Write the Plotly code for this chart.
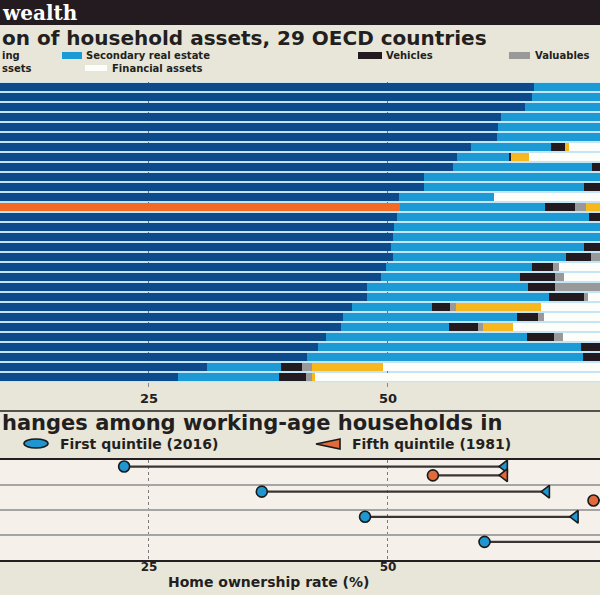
import plotly.graph_objects as go

# ---------------- data: composition of household assets (% of total) ----------------
rows = list(range(30))
housing = [65.3, 65.1, 64.3, 61.8, 61.5, 61.4, 58.7, 57.2, 56.8, 53.8,
           53.8, 51.2, 51.3, 50.9, 50.6, 50.5, 50.3, 50.5, 49.8, 49.3,
           47.8, 47.8, 46.2, 45.3, 45.1, 43.5, 42.7, 41.5, 31.1, 28.0]
secondary = [10.7, 9.9, 9.7, 14.2, 13.5, 12.6, 8.4, 5.5, 14.5, 21.0,
             16.7, 9.9, 15.1, 20.1, 24.0, 23.0, 20.2, 18.1, 15.3, 14.5,
             16.8, 19.0, 8.4, 18.2, 11.3, 21.0, 27.5, 28.9, 7.7, 10.6]
vehicles = [2.0, 2.0, 2.0, 2.0, 2.0, 2.0, 1.4, 0.2, 2.5, 2.0,
            3.0, 0.0, 3.2, 3.0, 2.0, 2.0, 2.5, 2.6, 2.2, 3.7,
            2.9, 3.7, 1.9, 2.2, 3.0, 2.9, 3.0, 3.0, 2.2, 2.8]
valuables = [0.5, 0.5, 0.5, 0.5, 0.5, 0.5, 0.0, 0.0, 0.5, 0.5,
             0.5, 0.0, 1.1, 0.5, 0.5, 0.5, 0.5, 1.5, 0.6, 0.9,
             6.0, 0.4, 0.6, 0.6, 0.5, 0.9, 0.5, 0.5, 1.0, 0.6]
other = [0.0, 0.0, 0.0, 0.0, 0.0, 0.0, 0.4, 1.9, 0.0, 0.0,
         0.0, 0.0, 2.5, 0.0, 0.0, 0.0, 0.0, 0.0, 0.0, 0.0,
         0.0, 0.0, 8.9, 0.0, 3.2, 0.0, 0.0, 0.0, 7.5, 0.4]
financial = [round(100 - h - s - v - va - o, 1) for h, s, v, va, o in
             zip(housing, secondary, vehicles, valuables, other)]
highlight_row = 12

# ---------------- data: home ownership rate (%) ----------------
groups = [0, 1, 2, 3]
q1_2016 = [22.4, 36.8, 47.6, 60.1]
q1_1981 = [62.2, 66.6, 69.6, 77.0]
q5_2016 = [54.7, 71.5, 79.0, 82.0]
q5_1981 = [62.2, 80.0, 85.0, 88.0]

tick_vals = [25, 50]
tick_text = ["25", "50"]

# ---------------- styling ----------------
BG = "#e8e6d9"
INK = "#231f20"
DARK_BLUE = "#0d4a8b"
LIGHT_BLUE = "#1b9ad6"
BLACK = "#231a1f"
GREY = "#999999"
YELLOW = "#f6b81e"
WHITE = "#fdfdf9"
ORANGE = "#f26a25"
DOT_BLUE = "#1f96d0"
DOT_ORANGE = "#e2693a"
FONT = "DejaVu Sans"
XR = [9.414, 72.18]


def py(p):
    return 1 - p / 600.0


def px(p):
    return p / 600.0


fig = go.Figure()

housing_colors = [ORANGE if i == highlight_row else DARK_BLUE for i in rows]
segments = [
    (housing, housing_colors),
    (secondary, LIGHT_BLUE),
    (vehicles, BLACK),
    (valuables, GREY),
    (other, YELLOW),
    (financial, WHITE),
]
for vals, col in segments:
    fig.add_trace(go.Bar(x=vals, y=rows, orientation="h", width=0.77,
                         marker=dict(color=col, line=dict(width=0)),
                         xaxis="x", yaxis="y", hoverinfo="skip"))


def seg_xy(a, b, off):
    xs, ys = [], []
    for g, s, e in zip(groups, a, b):
        xs += [s, e, None]
        ys += [g + off, g + off, None]
    return xs, ys


BLUE_OFF, ORANGE_OFF = -0.22, 0.13
for a, b, off in [(q1_2016, q1_1981, BLUE_OFF), (q5_2016, q5_1981, ORANGE_OFF)]:
    xs, ys = seg_xy(a, b, off)
    fig.add_trace(go.Scatter(x=xs, y=ys, mode="lines",
                             line=dict(color="#3b3434", width=2.2),
                             xaxis="x2", yaxis="y2", hoverinfo="skip"))

for vals, off, col, sym in [(q1_1981, BLUE_OFF, DOT_BLUE, "triangle-left"),
                            (q5_1981, ORANGE_OFF, DOT_ORANGE, "triangle-left"),
                            (q1_2016, BLUE_OFF, DOT_BLUE, "circle"),
                            (q5_2016, ORANGE_OFF, DOT_ORANGE, "circle")]:
    fig.add_trace(go.Scatter(x=vals, y=[g + off for g in groups], mode="markers",
                             marker=dict(symbol=sym, size=11, color=col,
                                         line=dict(color="#1a1a1a", width=1.6)),
                             xaxis="x2", yaxis="y2", hoverinfo="skip"))

tickfont = dict(family=FONT, size=13, color=INK, weight="bold")
tickfont2 = dict(family=FONT, size=12, color=INK, weight="bold")

shapes = [
    dict(type="rect", xref="paper", yref="paper", x0=0, x1=1, y0=py(25), y1=1,
         fillcolor="#231b20", line=dict(width=0), layer="below"),
    dict(type="rect", xref="x domain", yref="y domain", x0=0, x1=1, y0=0, y1=1,
         fillcolor="#c3e5f6", line=dict(width=0), layer="below"),
    dict(type="rect", xref="x2 domain", yref="y2 domain", x0=0, x1=1, y0=0, y1=1,
         fillcolor="#f5f0ea", line=dict(width=0), layer="below"),
    dict(type="line", xref="paper", yref="paper", x0=0, x1=1, y0=py(411), y1=py(411),
         line=dict(color=INK, width=1.5)),
    dict(type="rect", xref="paper", yref="paper", x0=0, x1=1, y0=0, y1=py(595),
         fillcolor="#ffffff", line=dict(width=0)),
]

for x0, x1, y0, y1, col in [(62, 82, 52, 59, LIGHT_BLUE), (358, 382, 52, 59, BLACK),
                            (509, 530, 52, 59, GREY), (85, 107, 65, 71, WHITE)]:
    shapes.append(dict(type="rect", xref="paper", yref="paper",
                       x0=px(x0), x1=px(x1), y0=py(y1), y1=py(y0),
                       fillcolor=col, line=dict(width=0)))

shapes.append(dict(type="circle", xref="paper", yref="paper",
                   x0=px(24), x1=px(48), y0=py(448), y1=py(439),
                   fillcolor=DOT_BLUE, line=dict(color="#1a1a1a", width=1.6)))
shapes.append(dict(type="path", xref="paper", yref="paper",
                   path=f"M {px(340)} {py(439)} L {px(316)} {py(444)} L {px(340)} {py(449)} Z",
                   fillcolor=DOT_ORANGE, line=dict(color="#1a1a1a", width=1.6)))

annotations = []


def txt(s, x, y, size, color=INK, family=FONT, anchor="left", bold=True):
    annotations.append(dict(text=s, x=px(x), y=py(y), xref="paper", yref="paper",
                            xanchor=anchor, yanchor="middle", showarrow=False,
                            font=dict(family=family, size=size, color=color,
                                      weight="bold" if bold else "normal")))


txt("wealth", 0, 13, 20, color="#ffffff", family="DejaVu Serif")
txt("on of household assets, 29 OECD countries", 0, 38, 20)
txt("ing", 0, 55.5, 10)
txt("Secondary real estate", 84, 55.5, 10)
txt("Vehicles", 384, 55.5, 10)
txt("Valuables", 533, 55.5, 10)
txt("ssets", 0, 68.5, 10)
txt("Financial assets", 110, 68.5, 10)
txt("hanges among working-age households in", 0, 423, 21)
txt("First quintile (2016)", 58, 444, 14)
txt("Fifth quintile (1981)", 350, 444, 14)
txt("Home ownership rate (%)", 268, 582, 14, anchor="center")

fig.update_layout(
    width=600, height=600,
    margin=dict(l=0, r=0, t=0, b=0),
    paper_bgcolor=BG, plot_bgcolor="rgba(0,0,0,0)",
    barmode="stack", showlegend=False,
    shapes=shapes, annotations=annotations,
    xaxis=dict(domain=[0, 1], anchor="y", range=XR, tickvals=tick_vals, ticktext=tick_text,
               showgrid=True, gridcolor="#6f6f6f", griddash="dot", gridwidth=1,
               ticks="outside", ticklen=4, tickcolor="#888888", tickfont=tickfont,
               zeroline=False, showline=False, fixedrange=True),
    yaxis=dict(domain=[py(382.2), py(82.2)], anchor="x", range=[29.5, -0.5],
               showticklabels=False, showgrid=False, zeroline=False, fixedrange=True),
    xaxis2=dict(domain=[0, 1], anchor="y2", range=XR, tickvals=tick_vals, ticktext=tick_text,
                showgrid=True, gridcolor="#7a7a7a", griddash="dot", gridwidth=1,
                ticks="", tickfont=tickfont2, ticklabelstandoff=-5,
                showline=True, mirror=True,
                linecolor=INK, linewidth=1.5, zeroline=False, fixedrange=True),
    yaxis2=dict(domain=[py(560), py(459.5)], anchor="x2", range=[3.5, -0.5],
                tickvals=[0.5, 1.5, 2.5], showticklabels=False, ticks="",
                showgrid=True, gridcolor="#a5a5a5", gridwidth=1.5,
                zeroline=False, fixedrange=True),
)

fig.write_html("out.html", config={"displayModeBar": False},
               post_script="document.body.style.margin='0';document.body.style.overflow='hidden';")
